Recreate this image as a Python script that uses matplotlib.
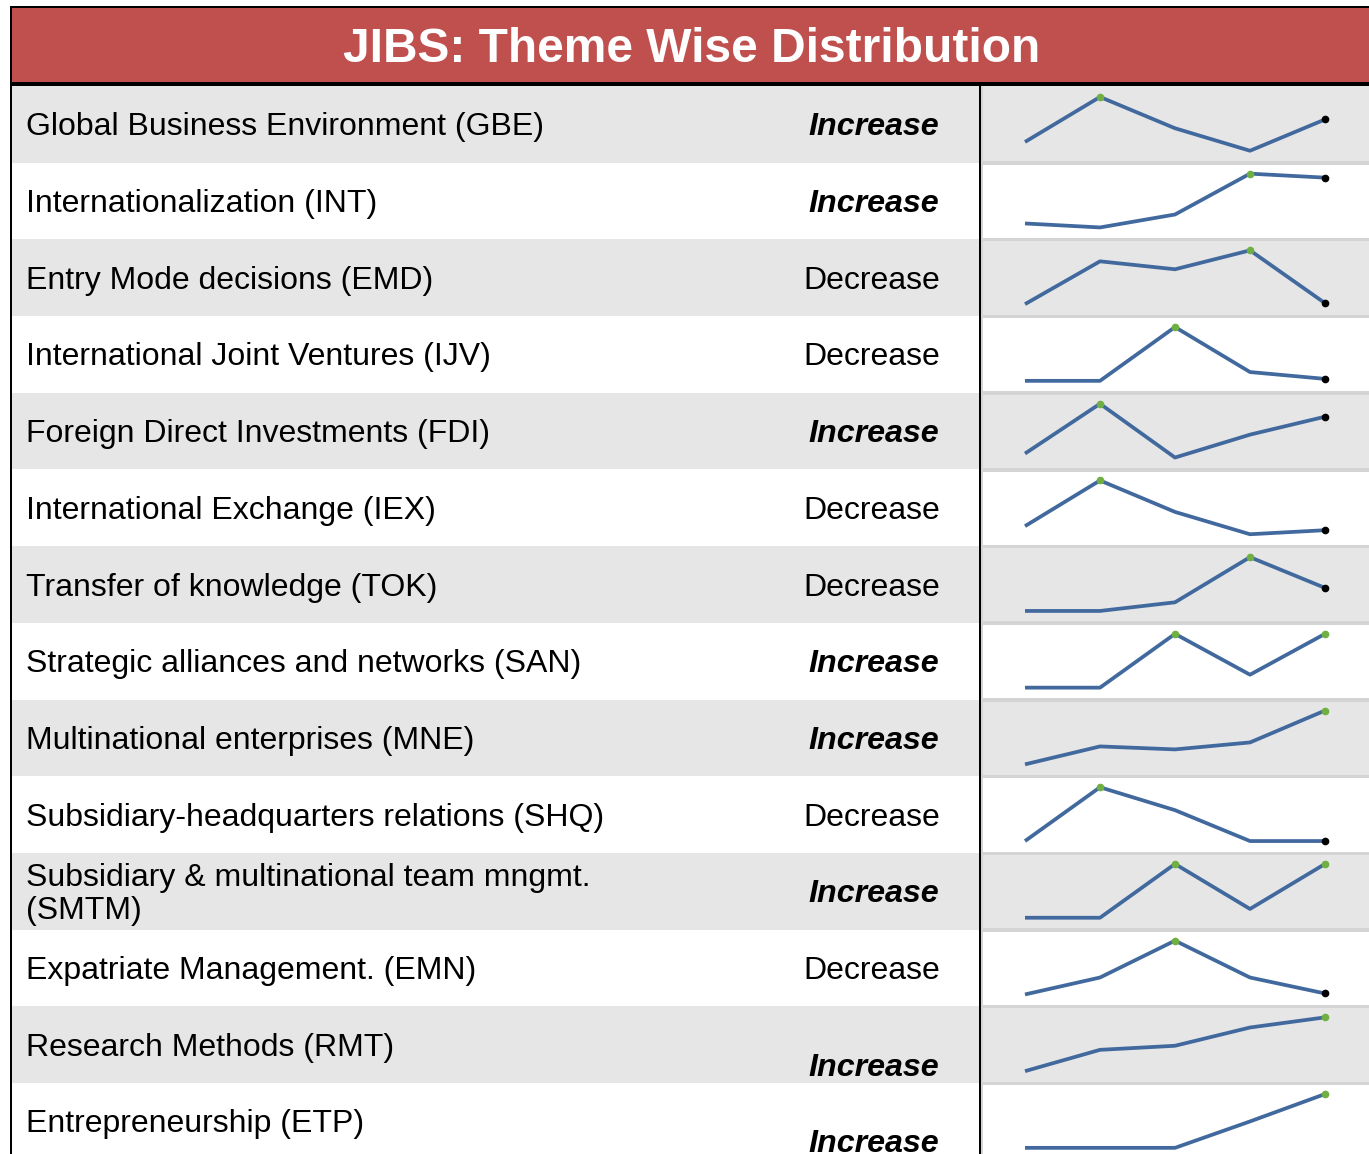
import matplotlib.pyplot as plt
from matplotlib.patches import Rectangle

plt.rcParams['font.family'] = ['Liberation Sans', 'DejaVu Sans']

# data
title = 'JIBS: Theme Wise Distribution'
themes = [
    'Global Business Environment (GBE)',
    'Internationalization (INT)',
    'Entry Mode decisions (EMD)',
    'International Joint Ventures (IJV)',
    'Foreign Direct Investments (FDI)',
    'International Exchange (IEX)',
    'Transfer of knowledge (TOK)',
    'Strategic alliances and networks (SAN)',
    'Multinational enterprises (MNE)',
    'Subsidiary-headquarters relations (SHQ)',
    'Subsidiary & multinational team mngmt.\n(SMTM)',
    'Expatriate Management. (EMN)',
    'Research Methods (RMT)',
    'Entrepreneurship (ETP)',
]
trend = ['Increase', 'Increase', 'Decrease', 'Decrease', 'Increase', 'Decrease', 'Decrease',
         'Increase', 'Increase', 'Decrease', 'Increase', 'Decrease', 'Increase', 'Increase']
# relative values per theme (5 periods), each sparkline is scaled on its own
spark = [
    [9, 55, 23, 0, 32],
    [4, 0, 13, 54, 50],
    [0, 43, 35, 54, 1],
    [0, 0, 55, 9, 2],
    [4, 54, 0, 23, 41],
    [8, 53, 22, 0, 4],
    [0, 0, 9, 56, 24],
    [0, 0, 54, 13, 54],
    [0, 18, 15, 22, 54],
    [0, 54, 31, 0, 0],
    [0, 0, 55, 9, 55],
    [0, 17, 54, 17, 1],
    [0, 21, 25, 43, 53],
    [0, 0, 0, 27, 55],
]
# the last two "Increase" labels sit low in their cells
trend_shift = [0] * 12 + [20, 20]

W, H = 1369, 1154
fig = plt.figure(figsize=(W / 100, H / 100), dpi=100)
bg = fig.add_axes([0, 0, 1, 1])
bg.set_xlim(0, W)
bg.set_ylim(H, 0)
bg.axis('off')

red = '#C0504D'
grey = '#E6E6E6'
sep = '#D4D4D4'
blue = '#41699E'
green = '#70B043'

# title band
bg.add_patch(Rectangle((10, 6), W - 10, 80, facecolor='black', lw=0))
bg.add_patch(Rectangle((12, 8), W - 12, 74, facecolor=red, lw=0))
bg.text(692, 49, title, color='white', fontsize=34.5, fontweight='bold', ha='center', va='center')

top0 = 86
rh = 76.7
col_x = 983

for i in range(len(themes)):
    top = top0 + i * rh
    fc = grey if i % 2 == 0 else 'white'
    bg.add_patch(Rectangle((12, top), 967, rh, facecolor=fc, lw=0))
    bg.add_patch(Rectangle((col_x, top), W - col_x, rh, facecolor=fc, lw=0))
    if i > 0:
        bg.add_patch(Rectangle((col_x, top - 1.5), W - col_x, 3.5, facecolor=sep, lw=0))
    cy = top + rh / 2
    bg.text(26, cy + 3, themes[i], fontsize=23, ha='left', va='center', linespacing=1.1)
    if trend[i] == 'Increase':
        bg.text(939, cy + 3 + trend_shift[i], trend[i], fontsize=23.2, ha='right', va='center',
                fontweight='bold', style='italic')
    else:
        bg.text(940, cy + 3, trend[i], fontsize=23, ha='right', va='center')

    # sparkline
    vals = spark[i]
    ax = fig.add_axes([col_x / W, 1 - (top + rh) / H, (W - col_x) / W, rh / H])
    ax.axis('off')
    ax.patch.set_alpha(0)
    xs = list(range(len(vals)))
    lo, hi = min(vals), max(vals)
    r = hi - lo
    ax.set_ylim(lo - r * 12 / 54, hi + r * 11 / 54)
    ax.set_xlim((col_x - 1025) / 75, (W - 1025) / 75)
    ax.plot(xs, vals, color=blue, lw=2.7, solid_joinstyle='round', solid_capstyle='butt')
    for j, v in enumerate(vals):
        if v == hi:
            ax.plot(j, v, 'o', color=green, ms=4.5, zorder=3)
        elif j == len(vals) - 1:
            ax.plot(j, v, 'o', color='black', ms=4.5, zorder=3)

# borders
bg.add_patch(Rectangle((10, 86), 2, H - 86, facecolor='black', lw=0))
bg.add_patch(Rectangle((978.5, 86), 2, H - 86, facecolor='black', lw=0))
bg.add_patch(Rectangle((980.5, 86), 2, H - 86, facecolor=sep, lw=0))

fig.savefig('out.png', dpi=100)
